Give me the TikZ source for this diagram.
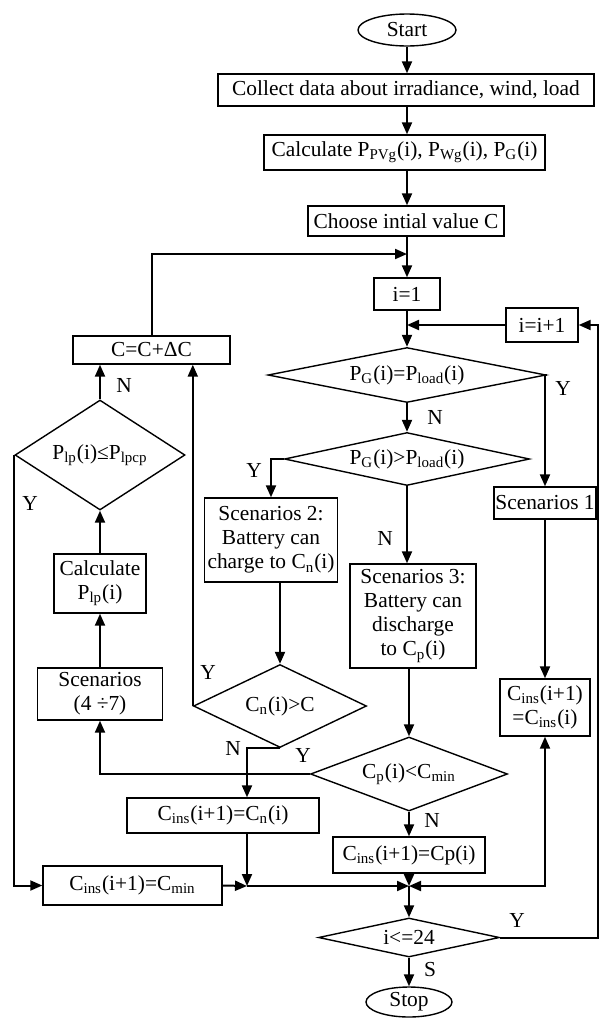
\documentclass[tikz,border=0pt]{standalone}
\usepackage{fontspec}
\setmainfont{Liberation Serif}
\usetikzlibrary{shapes,arrows.meta,positioning}

\begin{document}
\begin{tikzpicture}[x=0.5pt, y=-0.5pt, font=\fontsize{10.7}{12}\selectfont,
    >={Triangle[length=6pt,width=5pt]},
    box/.style={draw, line width=0.7pt, inner sep=0pt, align=center},
    dec/.style={draw, diamond, line width=0.7pt, inner sep=0pt},
    term/.style={draw, ellipse, line width=0.7pt, inner sep=0pt},
    arr/.style={line width=1pt, ->}]
    \useasboundingbox (0,0) rectangle (600,1018);

    % main column
    \node[term, minimum width=49pt, minimum height=16pt] (start) at (407,30) {Start};
    \node[box, minimum width=188pt, minimum height=16pt] (collect) at (406,90) {Collect data about irradiance, wind, load};
    \node[box, minimum width=140.5pt, minimum height=17.5pt] (calc) at (404.5,152.5) {Calculate P\textsubscript{PVg}(i), P\textsubscript{Wg}(i), P\textsubscript{G}(i)};
    \node[box, minimum width=98pt, minimum height=15pt] (choose) at (406,221) {Choose intial value C};
    \node[box, minimum width=33pt, minimum height=16pt] (ione) at (407,294) {i=1};
    \node[box, minimum width=36pt, minimum height=17pt] (iinc) at (542,325) {i=i+1};
    \node[dec, aspect=5, minimum width=139pt, minimum height=27.5pt] (dbal) at (407,375) {P\textsubscript{G}(i)=P\textsubscript{load}(i)};
    \node[dec, aspect=4.6, minimum width=122.5pt, minimum height=26.5pt] (dsur) at (407,459) {P\textsubscript{G}(i)>P\textsubscript{load}(i)};

    % scenarios
    \node[box, minimum width=51pt, minimum height=16pt] (scA) at (545,503) {Scenarios 1};
    \node[box, minimum width=66.5pt, minimum height=42pt] (scB) at (271,540) {Scenarios 2:\\Battery can\\charge to C\textsubscript{n}(i)};
    \node[box, minimum width=63pt, minimum height=52pt] (scC) at (413,616) {Scenarios 3:\\Battery can\\discharge\\to C\textsubscript{p}(i)};
    \node[dec, aspect=2.08, minimum width=86.5pt, minimum height=41.5pt] (dcn) at (280,706) {C\textsubscript{n}(i)>C};
    \node[box, minimum width=45pt, minimum height=28.5pt] (keep) at (545,707.5) {C\textsubscript{ins}(i+1)\\=C\textsubscript{ins}(i)};
    \node[dec, aspect=2.66, minimum width=98.5pt, minimum height=37pt] (dcp) at (409,774) {C\textsubscript{p}(i)<C\textsubscript{min}};
    \node[box, minimum width=96pt, minimum height=17.5pt] (cn) at (223,815.5) {C\textsubscript{ins}(i+1)=C\textsubscript{n}(i)};
    \node[box, minimum width=76pt, minimum height=18pt] (cp) at (409,855) {C\textsubscript{ins}(i+1)=Cp(i)};
    \node[box, minimum width=89.5pt, minimum height=19.5pt] (cmin) at (132.5,885.5) {C\textsubscript{ins}(i+1)=C\textsubscript{min}};
    \node[dec, aspect=4.64, minimum width=90.5pt, minimum height=19.5pt] (dend) at (409,937.5) {i<=24};
    \node[term, minimum width=43pt, minimum height=15pt] (stop) at (409,1002) {Stop};

    % left column
    \node[box, minimum width=62.5pt, minimum height=26pt] (sc47) at (100,694) {Scenarios\\(4 ÷7)};
    \node[box, minimum width=46pt, minimum height=29.5pt] (calcplp) at (100,583.5) {Calculate\\P\textsubscript{lp}(i)};
    \node[dec, aspect=1.55, minimum width=85pt, minimum height=55pt] (dlp) at (100,455) {P\textsubscript{lp}(i)≤P\textsubscript{lpcp}};
    \node[box, minimum width=78.5pt, minimum height=14pt] (cc) at (151.5,350) {C=C+ΔC};

    % branch labels
    \node (yA) at (563,388) {Y};
    \node (nA) at (435,417) {N};
    \node (yB) at (254,470) {Y};
    \node (nB) at (385,538) {N};
    \node (yC) at (208,672) {Y};
    \node (nC) at (233,748) {N};
    \node (yD) at (303,755) {Y};
    \node (nD) at (432,820) {N};
    \node (yE) at (517,920) {Y};
    \node (sE) at (430,970) {S};
    \node (nF) at (124,385) {N};
    \node (yF) at (30,503) {Y};

    \coordinate (loopin) at (407,254);
    \coordinate (rgt) at (598,325);
    \coordinate (jn) at (247,886);
    \coordinate (jc) at (409,886);

    % connectors
    \draw[arr] (start.south) -- (start.south |- collect.north);
    \draw[arr] (collect.south -| start) -- (calc.north -| start);
    \draw[arr] (calc.south -| start) -- (choose.north -| start);
    \draw[arr] (choose.south -| ione) -- (ione.north);
    \draw[arr] (cc.north) |- (loopin);
    \draw[arr] (ione.south) -- (dbal.north);
    \draw[arr] (iinc.west) -- (iinc.west -| ione);
    \draw[arr] (dbal.south) -- (dsur.north);
    \draw[arr] (dbal.east) -| (scA.north);
    \draw[arr] (dsur.west) -| (scB.north);
    \draw[arr] (dsur.south) -- (dsur.south |- scC.north);
    \draw[arr] (scA.south) -- (keep.north);
    \draw[arr] (scB.south -| dcn.north) -- (dcn.north);
    \draw[arr] (dcn.west) -- (dcn.west |- cc.south);
    \draw[arr] (dcn.south) -| (jn |- cn.north);
    \draw[arr] (scC.south -| dcp.north) -- (dcp.north);
    \draw[arr] (dcp.south) -- (cp.north);
    \draw[arr] (dcp.west) -| (sc47.south);
    \draw[arr] (sc47.north) -- (calcplp.south);
    \draw[arr] (calcplp.north) -- (dlp.south);
    \draw[arr] (dlp.north) -- (dlp.north |- cc.south);
    \draw[arr] (dlp.west) |- (cmin.west);
    \draw[arr] (jn |- cn.south) -- (jn);
    \draw[arr] (cmin.east) -- (jn);
    \draw[arr] (jn) -- (jc);
    \draw[arr] (cp.south) -- (jc);
    \draw[line width=1pt, <->] (keep.south) |- (jc);
    \draw[arr] (jc) -- (dend.north);
    \draw[arr] (dend.east) -| (rgt) -- (iinc.east);
    \draw[arr] (dend.south) -- (stop.north);
\end{tikzpicture}
\end{document}
